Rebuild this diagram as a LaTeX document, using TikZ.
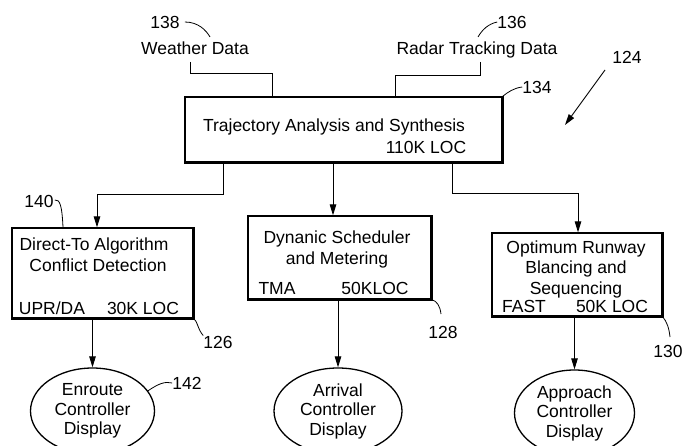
\documentclass[tikz,border=0pt]{standalone}
\usepackage{fontspec}
\setmainfont{Liberation Sans}
\usetikzlibrary{arrows.meta,shapes.geometric}
\tikzset{
  lbl/.style={inner sep=0pt, text height=12.6pt, text depth=0pt, font=\fontsize{17.5}{20}\selectfont},
  boxn/.style={draw, line width=1.3pt, rectangle, inner sep=0pt},
  shadowedge/.style={line width=2.6pt},
  wire/.style={line width=0.9pt},
  arr/.style={wire, -{Triangle[length=11pt,width=6.5pt]}},
  lead/.style={line width=0.8pt},
  disp/.style={draw, line width=1.3pt, ellipse, inner sep=0pt, align=center,
    font=\fontsize{17.5}{19.5}\selectfont}
}
\begin{document}
\begin{tikzpicture}[x=1pt,y=-1pt]
\fill[white] (0,0) rectangle (684,446);
\useasboundingbox (0,0) rectangle (684,446);

% top inputs
\node[lbl] (n138) at (165,22) {138};
\node[lbl] (n136) at (512,22) {136};
\node[lbl] (wd) at (195,48) {Weather Data};
\node[lbl] (rd) at (477,48) {Radar Tracking Data};
\node[lbl] (n134) at (537,87) {134};
\node[lbl] (n124) at (627,57) {124};

% top box
\node[boxn, minimum width=317pt, minimum height=65pt] (tas) at (343.5,129.5) {};
\draw[shadowedge] (tas.south west) -- (tas.south east) -- (tas.north east);
\node[lbl] (tas1) at (334,125) {Trajectory Analysis and Synthesis};
\node[lbl] (tas2) at (426,147) {110K LOC};

% middle-row boxes
\node[boxn, minimum width=181pt, minimum height=90pt] (dta) at (102.5,273) {};
\draw[shadowedge] (dta.south west) -- (dta.south east) -- (dta.north east);
\node[lbl] at (94,244) {Direct-To Algorithm};
\node[lbl] at (98,265) {Conflict Detection};
\node[lbl] at (52,308) {UPR/DA};
\node[lbl] at (143,308) {30K LOC};

\node[boxn, minimum width=183pt, minimum height=83pt] (dsm) at (339.5,257.5) {};
\draw[shadowedge] (dsm.south west) -- (dsm.south east) -- (dsm.north east);
\node[lbl] at (337,237) {Dynanic Scheduler};
\node[lbl] at (337,258) {and Metering};
\node[lbl] at (277,288) {TMA};
\node[lbl] at (375,288) {50KLOC};

\node[boxn, minimum width=170pt, minimum height=83pt] (orb) at (577,274.5) {};
\draw[shadowedge] (orb.south west) -- (orb.south east) -- (orb.north east);
\node[lbl] at (576,247) {Optimum Runway};
\node[lbl] at (576,267) {Blancing and};
\node[lbl] at (576,288) {Sequencing};
\node[lbl] at (524,306) {FAST};
\node[lbl] at (612,306) {50K LOC};

% displays
\node[disp, minimum width=124pt, minimum height=86pt] (e1) at (92.5,411) {Enroute\\Controller\\Display};
\node[disp, minimum width=128pt, minimum height=86pt] (e2) at (338,411) {Arrival\\Controller\\Display};
\node[disp, minimum width=120pt, minimum height=86pt] (e3) at (574.5,413) {Approach\\Controller\\Display};

% reference numerals
\node[lbl] (n140) at (39,201) {140};
\node[lbl] (n126) at (218,342) {126};
\node[lbl] (n128) at (443,332) {128};
\node[lbl] (n130) at (668,351) {130};
\node[lbl] (n142) at (187,383) {142};

% input wires
\coordinate (wdIn) at (190,62);
\coordinate (wdBend) at (272,73);
\coordinate (rdIn) at (480,62);
\coordinate (rdBend) at (395,75);
\draw[wire] (wdIn) |- (wdBend) -- (wdBend |- tas.north);
\draw[wire] (rdIn) |- (rdBend) -- (rdBend |- tas.north);

% output wires
\coordinate (oL) at (223,0);
\coordinate (bL) at (97,194);
\coordinate (oM) at (333,0);
\coordinate (oR) at (452,0);
\coordinate (bR) at (578,193);
\draw[arr] (tas.south -| oL) |- (bL) -- (bL |- dta.north);
\draw[arr] (tas.south -| oM) -- (oM |- dsm.north);
\draw[arr] (tas.south -| oR) |- (bR) -- (bR |- orb.north);

\draw[arr] (dta.south -| e1.north) -- (e1.north);
\draw[arr] (dsm.south -| e2.north) -- (e2.north);
\draw[arr] (orb.south -| e3.north) -- (e3.north);

% leaders
\draw[lead] (n138.east) ++(5,0) .. controls (198,22) and (206,30) .. (210,37);
\draw[lead] (478,37) .. controls (482,30) and (488,24) .. (n136.west);
\draw[lead] (tas.north east) .. controls (508,92) and (514,88) .. (n134.west);
\draw[lead] (n140.east) ++(1,-1) .. controls (60,199) and (62,206) .. (dta.north west -| 63,0);
\draw[lead] (dta.south east) .. controls (197,320) and (198,330) .. (n126.north west);
\draw[lead] (dsm.south east) .. controls (437,301) and (440,306) .. (441,314);
\draw[lead] (orb.south east) .. controls (667,322) and (669,328) .. (670,337);
\draw[lead] (e1.20) .. controls (158,384) and (165,381) .. (n142.west);

% 124 arrow
\coordinate (a124) at (605,70);
\coordinate (b124) at (565,125);
\draw[arr] (a124) -- (b124);
\end{tikzpicture}
\end{document}
